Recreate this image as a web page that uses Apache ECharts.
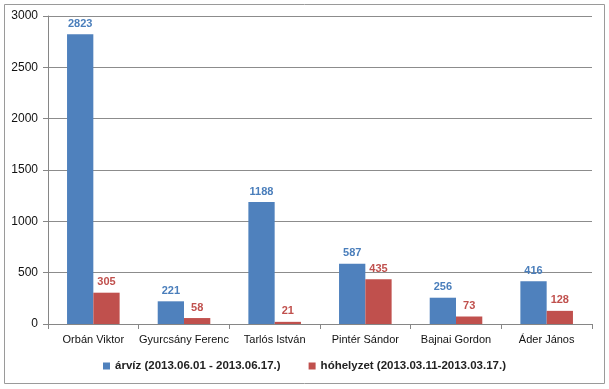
<!DOCTYPE html>
<html><head><meta charset="utf-8">
<script src="https://cdn.jsdelivr.net/npm/echarts@6/dist/echarts.min.js"></script>
<style>html,body{margin:0;padding:0;background:#fff}#c{width:609px;height:389px}</style>
</head><body><div id="c"></div>
<script>
const categories = ['Orbán Viktor','Gyurcsány Ferenc','Tarlós István','Pintér Sándor','Bajnai Gordon','Áder János'];
const arvizValues = [2823, 221, 1188, 587, 256, 416];
const hoValues = [305, 58, 21, 435, 73, 128];
const seriesNames = ['árvíz (2013.06.01 - 2013.06.17.)', 'hóhelyzet (2013.03.11-2013.03.17.)'];
const yTicks = [0, 500, 1000, 1500, 2000, 2500, 3000];

const chart = echarts.init(document.getElementById('c'));
const font = 'Liberation Sans, Arial, sans-serif';
chart.setOption({
  animation: false,
  graphic: [{type:'rect', shape:{x:4.5,y:4.5,width:600,height:379}, style:{fill:'none', stroke:'#9a9a9a', lineWidth:1}, z:-1}],
  grid: {left: 48, right: 17, top: 16, bottom: 65},
  legend: {
    bottom: 12, left: 'center', itemWidth: 7, itemHeight: 7, itemGap: 28,
    icon: 'rect',
    textStyle: {fontFamily: font, fontSize: 11.5, fontWeight: 'bold', color: '#222'},
    data: seriesNames
  },
  xAxis: {
    type: 'category', data: categories,
    axisLine: {lineStyle: {color: '#868686'}},
    axisTick: {show: true, length: 5, lineStyle: {color: '#868686'}},
    axisLabel: {fontFamily: font, fontSize: 11, color: '#111', margin: 10, interval: 0}
  },
  yAxis: {
    type: 'value', min: yTicks[0], max: yTicks[yTicks.length-1], interval: 500,
    axisLine: {show: true, lineStyle: {color: '#868686'}},
    axisTick: {show: true, length: 5, lineStyle: {color: '#868686'}},
    axisLabel: {fontFamily: font, fontSize: 12, color: '#111', margin: 10, formatter: v => String(v)},
    splitLine: {lineStyle: {color: '#8c8c8c'}}
  },
  series: [
    {name: seriesNames[0], type: 'bar', data: arvizValues, barGap: '0%', barCategoryGap: '42%',
     itemStyle: {color: '#4f81bd'},
     label: {show: true, position: 'top', distance: 5, fontFamily: font, fontSize: 11, fontWeight: 'bold', color: '#4a7ebb'}},
    {name: seriesNames[1], type: 'bar', data: hoValues,
     itemStyle: {color: '#c0504d'},
     label: {show: true, position: 'top', distance: 5, fontFamily: font, fontSize: 11, fontWeight: 'bold', color: '#c0504d'}}
  ]
});
</script></body></html>
